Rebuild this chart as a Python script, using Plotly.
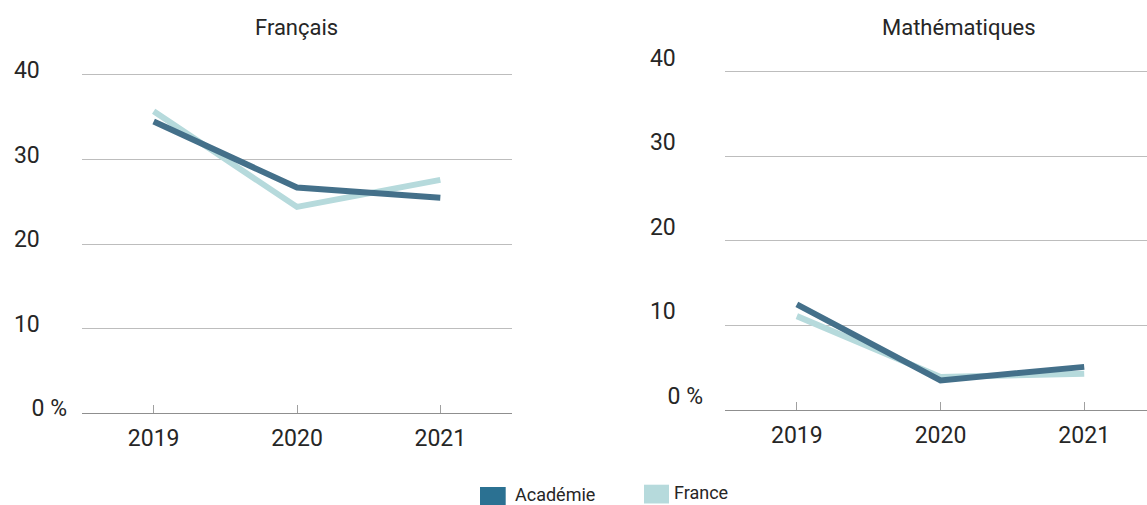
import plotly.graph_objects as go

years = ["2019", "2020", "2021"]
fr_academie = [34.5, 26.7, 25.5]
fr_france = [35.7, 24.4, 27.6]
ma_academie = [12.5, 3.5, 5.1]
ma_france = [11.1, 3.9, 4.3]
y_ticks = [0, 10, 20, 30, 40]
y_ticktext = ["0 %", "10", "20", "30", "40"]
subtitles = ["Français", "Mathématiques"]
series_names = ["Académie", "France"]

W, H = 1147, 505
FONT = "Roboto, sans-serif"
C_ACA = "#44708a"
C_FRA = "#b6dadc"
C_ACA_LEG = "#2b7192"
TXT = "#262626"

fig = go.Figure()

fig.add_trace(go.Scatter(x=years, y=fr_france, mode="lines", line=dict(color=C_FRA, width=6),
                         name=series_names[1], showlegend=False, xaxis="x", yaxis="y"))
fig.add_trace(go.Scatter(x=years, y=fr_academie, mode="lines", line=dict(color=C_ACA, width=6),
                         name=series_names[0], showlegend=False, xaxis="x", yaxis="y"))
fig.add_trace(go.Scatter(x=years, y=ma_france, mode="lines", line=dict(color=C_FRA, width=6),
                         name=series_names[1], showlegend=False, xaxis="x2", yaxis="y2"))
fig.add_trace(go.Scatter(x=years, y=ma_academie, mode="lines", line=dict(color=C_ACA, width=6),
                         name=series_names[0], showlegend=False, xaxis="x2", yaxis="y2"))


def px_x(p):
    return p / W


def px_y(p):
    return 1 - p / H


# tick labels padded with an invisible " %" so they align like the reference
pad = "<span style='color:rgba(0,0,0,0)'> %\u2009</span>"
ticktext = [t if "%" in t else t + pad for t in y_ticktext]

common_x = dict(type="category", showgrid=False, showline=True, linecolor="#8f8f8f", linewidth=1,
                ticks="inside", ticklen=8, tickcolor="#a0a0a0", tickwidth=1,
                tickfont=dict(family=FONT, size=23, color=TXT), automargin=False,
                zeroline=False, fixedrange=True, ticklabelstandoff=4)
common_y = dict(range=[0, 40.2], tickvals=y_ticks, ticktext=ticktext, showgrid=True,
                gridcolor="#bdbdbd", gridwidth=1, zeroline=False, showline=False, ticks="",
                tickfont=dict(family=FONT, size=23, color=TXT), automargin=False, fixedrange=True)


def ydom(zero_px, forty_px):
    per = (zero_px - forty_px) / 40.0
    top_px = zero_px - per * 40.2
    return [px_y(zero_px), px_y(top_px)]


shapes = [
    dict(type="rect", xref="paper", yref="paper", x0=px_x(480), x1=px_x(505.7),
         y0=px_y(507), y1=px_y(487), fillcolor=C_ACA_LEG, line=dict(width=0)),
    dict(type="rect", xref="paper", yref="paper", x0=px_x(644), x1=px_x(669),
         y0=px_y(503.5), y1=px_y(484.7), fillcolor=C_FRA, line=dict(width=0)),
]

annotations = [
    dict(text=subtitles[0], x=px_x(296.5), y=px_y(27), xref="paper", yref="paper",
         xanchor="center", yanchor="middle", showarrow=False,
         font=dict(family=FONT, size=22, color=TXT)),
    dict(text=subtitles[1], x=px_x(958.5), y=px_y(27), xref="paper", yref="paper",
         xanchor="center", yanchor="middle", showarrow=False,
         font=dict(family=FONT, size=22, color=TXT)),
    dict(text=series_names[0], x=px_x(513), y=px_y(494), xref="paper", yref="paper",
         xanchor="left", yanchor="middle", showarrow=False,
         font=dict(family=FONT, size=18, color=TXT)),
    dict(text=series_names[1], x=px_x(672), y=px_y(492), xref="paper", yref="paper",
         xanchor="left", yanchor="middle", showarrow=False,
         font=dict(family=FONT, size=18, color=TXT)),
]

fig.update_layout(
    width=W, height=H,
    margin=dict(l=0, r=0, t=0, b=0, autoexpand=False),
    paper_bgcolor="white", plot_bgcolor="white",
    font=dict(family=FONT, color=TXT),
    showlegend=False,
    xaxis=dict(domain=[px_x(82), px_x(512)], range=[-0.5, 2.5], anchor="y", **common_x),
    yaxis=dict(domain=ydom(413.3, 75), anchor="x", ticklabelstandoff=14, ticklabelshift=-5, **common_y),
    xaxis2=dict(domain=[px_x(725), 1], range=[-0.5, 2.437], anchor="y2", **common_x),
    yaxis2=dict(domain=ydom(410, 71.7), anchor="x2", ticklabelstandoff=21, ticklabelshift=-14, **common_y),
    shapes=shapes,
    annotations=annotations,
)

fig.write_html("out.html", config={"displayModeBar": False},
               post_script="document.body.style.margin='0';document.body.style.overflow='hidden';")
